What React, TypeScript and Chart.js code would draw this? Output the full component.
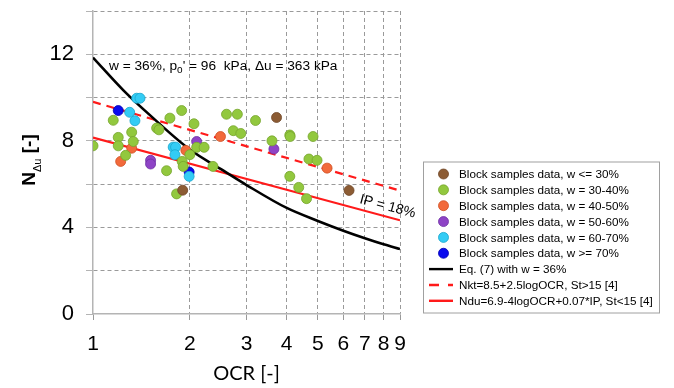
import React, { useEffect, useRef } from 'react';
import { Chart, registerables } from 'chart.js';

Chart.register(...registerables);

// ---- data ----
const seriesLabels = [
  'Block samples data, w <= 30%',
  'Block samples data, w = 30-40%',
  'Block samples data, w = 40-50%',
  'Block samples data, w = 50-60%',
  'Block samples data, w = 60-70%',
  'Block samples data, w >= 70%',
  'Eq. (7) with w = 36%',
  'Nkt=8.5+2.5logOCR, St>15 [4]',
  'Ndu=6.9-4logOCR+0.07*IP, St<15 [4]',
];

const ocrW30 = [3.72, 1.9, 6.25];
const nW30 = [9.08, 5.72, 5.71];

const ocrW40 = [1.0, 1.156, 1.886, 1.734, 1.577, 1.603, 1.319, 1.198, 1.334, 1.198, 1.263, 1.893, 1.907, 1.693, 1.819, 2.06, 2.0, 2.1, 2.215, 2.6, 2.81, 3.2, 2.73, 2.88, 3.6, 4.09, 4.1, 4.83, 2.36, 4.09, 4.69, 4.97, 4.36, 4.61];
const nW40 = [7.77, 8.95, 9.4, 9.05, 8.59, 8.51, 8.4, 8.16, 7.97, 7.77, 7.33, 7.05, 6.82, 6.62, 5.55, 8.79, 7.36, 7.7, 7.7, 9.23, 9.23, 8.94, 8.47, 8.34, 8.0, 8.27, 8.2, 8.2, 6.82, 6.36, 7.16, 7.1, 5.85, 5.33];

const ocrW50 = [1.319, 1.219, 1.944, 2.49, 5.34];
const nW50 = [7.66, 7.05, 7.56, 8.2, 6.74];

const ocrW60 = [1.51, 1.51, 2.1, 3.65];
const nW60 = [7.1, 6.93, 7.97, 7.62];

const ocrW70 = [1.367, 1.4, 1.3, 1.35, 1.775, 1.806, 1.797, 1.99];
const nW70 = [9.97, 9.97, 9.32, 8.93, 7.71, 7.71, 7.36, 6.36];

const ocrW80 = [1.198, 1.99];
const nW80 = [9.4, 6.56];

const eq7Ocr = [1, 1.25, 1.5, 2, 2.5, 3, 4, 5, 6, 7, 8, 9];
const eq7N = [11.85, 10.3, 9.2, 7.6, 6.69, 5.96, 4.9, 4.3, 3.85, 3.5, 3.22, 3.0];

const nktOcr = [1, 9];
const nktN = [9.8, 5.7];

const nduOcr = [1, 9];
const nduN = [8.15, 4.33];

const xTickValues = [1, 2, 3, 4, 5, 6, 7, 8, 9];
const yTickValues = [0, 2, 4, 6, 8, 10, 12, 14];
const yLabelValues = [0, 4, 8, 12];

const markerColors = ['#8c5c34', '#92c83e', '#f26a3b', '#8e44c6', '#33ccf5', '#0a0aee'];
const markerBorders = ['#6e4526', '#76a52c', '#cf4e22', '#6d2ea3', '#1aa6cc', '#0000b0'];

const FONT = '"Liberation Sans", Arial, sans-serif';

const pts = (xs: number[], ys: number[]) => xs.map((x, i) => ({ x, y: ys[i] }));

export default function App() {
  const ref = useRef<HTMLCanvasElement | null>(null);

  useEffect(() => {
    const canvas = ref.current;
    if (!canvas) return;

    const scatterSets = [
      [ocrW30, nW30],
      [ocrW40, nW40],
      [ocrW50, nW50],
      [ocrW60, nW60],
      [ocrW70, nW70],
      [ocrW80, nW80],
    ].map(([xs, ys], i) => ({
      type: 'scatter' as const,
      label: seriesLabels[i],
      data: pts(xs, ys),
      backgroundColor: markerColors[i],
      borderColor: markerBorders[i],
      borderWidth: 0.8,
      pointRadius: 5,
      showLine: false,
    }));

    const lineSets = [
      {
        type: 'line' as const,
        label: seriesLabels[6],
        data: pts(eq7Ocr, eq7N),
        borderColor: '#000000',
        backgroundColor: '#000000',
        borderWidth: 2.6,
        pointRadius: 0,
        cubicInterpolationMode: 'monotone' as const,
        fill: false,
      },
      {
        type: 'line' as const,
        label: seriesLabels[7],
        data: pts(nktOcr, nktN),
        borderColor: '#ff1a1a',
        backgroundColor: '#ff1a1a',
        borderWidth: 2.2,
        borderDash: [8, 6],
        pointRadius: 0,
        fill: false,
      },
      {
        type: 'line' as const,
        label: seriesLabels[8],
        data: pts(nduOcr, nduN),
        borderColor: '#ff1a1a',
        backgroundColor: '#ff1a1a',
        borderWidth: 2.2,
        pointRadius: 0,
        fill: false,
      },
    ];

    const overlay = {
      id: 'overlay',
      afterDraw(chart: any) {
        const ctx = chart.ctx as CanvasRenderingContext2D;
        ctx.save();
        ctx.fillStyle = '#000';
        ctx.textBaseline = 'alphabetic';

        // y title: N_Δu [-]
        ctx.save();
        ctx.translate(35, 160);
        ctx.rotate(-Math.PI / 2);
        const big = `bold 19px ${FONT}`;
        const small = `11px ${FONT}`;
        ctx.font = big;
        const wN = ctx.measureText('N').width;
        ctx.font = small;
        const wSub = ctx.measureText('\u0394u').width;
        ctx.font = big;
        const wRest = ctx.measureText(' [-]').width;
        const total = wN + wSub + wRest;
        let px = -total / 2;
        ctx.textAlign = 'left';
        ctx.fillText('N', px, 0);
        px += wN;
        ctx.font = small;
        ctx.fillText('\u0394u', px, 6);
        px += wSub;
        ctx.font = big;
        ctx.fillText(' [-]', px, 0);
        ctx.restore();

        // x title
        ctx.font = `20px Lato, "Open Sans", ${FONT}`;
        ctx.textAlign = 'center';
        ctx.fillText('OCR [-]', 246.5, 380);

        // annotation
        ctx.textAlign = 'left';
        let ax = 109;
        const ay = 70;
        ctx.font = `13.7px ${FONT}`;
        const s1 = 'w = 36%, p';
        ctx.fillText(s1, ax, ay);
        ax += ctx.measureText(s1).width;
        ctx.font = `10px ${FONT}`;
        ctx.fillText('o', ax, ay + 3);
        ax += ctx.measureText('o').width;
        ctx.font = `13.7px ${FONT}`;
        const s2 = "' = 96  kPa, \u0394u = 363 kPa";
        ctx.fillText(s2, ax, ay);

        // IP label
        ctx.save();
        ctx.translate(359, 203);
        ctx.rotate((15 * Math.PI) / 180);
        ctx.font = `14px ${FONT}`;
        ctx.fillText('IP = 18%', 0, 0);
        ctx.restore();

        // legend
        const lx = 423;
        const ly = 161.5;
        const lw = 236;
        const lh = 151;
        ctx.fillStyle = '#ffffff';
        ctx.fillRect(lx, ly, lw, lh);
        ctx.strokeStyle = '#a0a0a0';
        ctx.lineWidth = 1;
        ctx.setLineDash([]);
        ctx.strokeRect(lx + 0.5, ly + 0.5, lw, lh);
        const ds = chart.data.datasets;
        ctx.font = `11.7px ${FONT}`;
        ctx.textAlign = 'left';
        ctx.textBaseline = 'middle';
        for (let i = 0; i < ds.length; i++) {
          const yy = 174 + i * 15.85;
          const d = ds[i];
          if (i < 6) {
            ctx.beginPath();
            ctx.arc(443.5, yy, 5, 0, Math.PI * 2);
            ctx.fillStyle = d.backgroundColor;
            ctx.fill();
            ctx.lineWidth = 0.8;
            ctx.strokeStyle = d.borderColor;
            ctx.stroke();
          } else {
            ctx.beginPath();
            ctx.strokeStyle = d.borderColor;
            ctx.lineWidth = 2.4;
            if (d.borderDash) ctx.setLineDash([10, 9]);
            else ctx.setLineDash([]);
            ctx.moveTo(429, yy);
            ctx.lineTo(453, yy);
            ctx.stroke();
            ctx.setLineDash([]);
          }
          ctx.fillStyle = '#000';
          ctx.fillText(d.label, 459, yy + 1);
        }
        ctx.restore();
      },
    };

    const chart = new Chart(canvas, {
      type: 'scatter',
      data: { datasets: [...scatterSets, ...lineSets] as any },
      options: {
        animation: false,
        responsive: false,
        devicePixelRatio: 1,
        layout: { padding: { left: 0, right: 274, top: 11, bottom: 0 } },
        plugins: { legend: { display: false }, tooltip: { enabled: false } },
        scales: {
          x: {
            type: 'logarithmic',
            min: 1,
            max: 9,
            afterFit: (s: any) => {
              s.height = 74;
              s.paddingLeft = 0;
              s.paddingRight = 0;
            },
            afterBuildTicks: (s: any) => {
              s.ticks = xTickValues.map((v) => ({ value: v }));
            },
            ticks: {
              autoSkip: false,
              maxRotation: 0,
              minRotation: 0,
              padding: 12,
              color: '#000',
              font: { family: FONT, size: 21 },
              callback: (v: any) => String(v),
            },
            grid: {
              color: (c: any) => (c.tick && c.tick.value === 1 ? 'rgba(0,0,0,0)' : '#9a9a9a'),
              lineWidth: 1,
              tickLength: 6,
              tickColor: '#9a9a9a',
            } as any,
            border: { color: '#b4b4b4', width: 1.5, dash: [4, 3] },
          },
          y: {
            type: 'linear',
            min: 0,
            max: 14,
            afterFit: (s: any) => {
              s.width = 93;
              s.paddingTop = 0;
              s.paddingBottom = 0;
            },
            afterBuildTicks: (s: any) => {
              s.ticks = yTickValues.map((v) => ({ value: v }));
            },
            ticks: {
              padding: 12,
              color: '#000',
              font: { family: FONT, size: 22 },
              callback: (v: any) => (yLabelValues.includes(Number(v)) ? String(v) : ''),
            },
            grid: {
              color: (c: any) => (c.tick && c.tick.value === 0 ? 'rgba(0,0,0,0)' : '#9a9a9a'),
              lineWidth: 1,
              tickLength: 7,
              tickColor: '#b4b4b4',
            } as any,
            border: { color: '#b4b4b4', width: 1.5, dash: [4, 3] },
          },
        },
      } as any,
      plugins: [overlay],
    });

    return () => chart.destroy();
  }, []);

  return (
    <div style={{ position: 'absolute', left: 0, top: 0, width: 674, height: 388, background: '#fff' }}>
      <canvas ref={ref} width={674} height={388} style={{ display: 'block' }} />
    </div>
  );
}
